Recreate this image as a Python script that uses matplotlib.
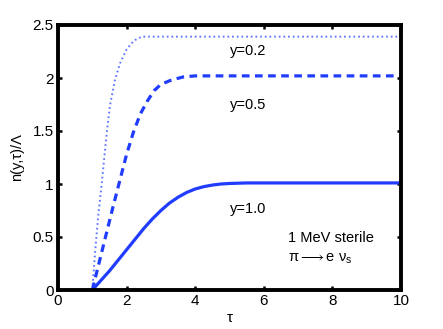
import matplotlib
matplotlib.use("Agg")
import matplotlib.pyplot as plt

plt.rcParams['font.family'] = ['Liberation Sans', 'DejaVu Sans']
plt.rcParams['mathtext.fontset'] = 'custom'
plt.rcParams['mathtext.rm'] = 'Liberation Sans'
plt.rcParams['mathtext.it'] = 'Liberation Sans'

# y = 0.2 (dotted)
tau_02 = [1.0, 1.04, 1.08, 1.17, 1.22, 1.28, 1.34, 1.43, 1.52, 1.66, 1.81, 2.0, 2.15, 2.3, 2.45, 2.7, 10.0]
n_02 = [0.0, 0.18, 0.35, 0.69, 0.84, 1.02, 1.22, 1.51, 1.75, 1.98, 2.14, 2.27, 2.33, 2.37, 2.39, 2.39, 2.39]

# y = 0.5 (dashed)
tau_05 = [1.0, 1.2, 1.4, 1.6, 1.8, 2.0, 2.2, 2.4, 2.6, 2.8, 3.0, 3.3, 3.65, 4.0, 10.0]
n_05 = [0.0, 0.26, 0.52, 0.78, 1.03, 1.28, 1.49, 1.66, 1.78, 1.88, 1.94, 1.98, 2.01, 2.02, 2.02]

# y = 1.0 (solid)
tau_10 = [1.0, 1.25, 1.5, 1.75, 2.0, 2.25, 2.5, 2.75, 3.0, 3.25, 3.5, 3.75, 4.0, 4.25, 4.5, 4.75, 5.0, 5.5, 10.0]
n_10 = [0.0, 0.09, 0.18, 0.28, 0.38, 0.48, 0.58, 0.67, 0.75, 0.82, 0.875, 0.92, 0.953, 0.975, 0.99, 1.0, 1.005, 1.01, 1.01]

xticks = [0, 2, 4, 6, 8, 10]
yticks = [0, 0.5, 1, 1.5, 2, 2.5]
yticklabels = ['0', '0.5', '1', '1.5', '2', '2.5']

fig = plt.figure(figsize=(4.43, 3.29), dpi=100)
ax = fig.add_axes([58/443, 39/329, 343/443, 265/329])

blue = '#1f3cff'
ax.plot(tau_02, n_02, color='#6078ff', lw=1.4, dashes=(0.9, 1.5))
ax.plot(tau_05, n_05, color=blue, lw=2.3, dashes=(2.4, 1.7))
ax.plot(tau_10, n_10, color=blue, lw=2.3, solid_capstyle='butt')

ax.set_xlim(0, 10)
ax.set_ylim(0, 2.5)
ax.set_xticks(xticks)
ax.set_xticklabels([str(v) for v in xticks])
ax.set_yticks(yticks)
ax.set_yticklabels(yticklabels)
ax.tick_params(direction='in', length=3, width=1.8, top=True, right=True,
               labelsize=11, pad=3)
for s in ax.spines.values():
    s.set_linewidth(2.8)

ax.set_xlabel('τ', fontsize=11, labelpad=2)
ax.set_ylabel('n(y,τ)/Λ', fontsize=10.5, labelpad=6)

fs = 10.5
ax.text(5.0, 2.25, 'y=0.2', fontsize=fs, va='center', ha='left')
ax.text(5.0, 1.75, 'y=0.5', fontsize=fs, va='center', ha='left')
ax.text(5.0, 0.76, 'y=1.0', fontsize=fs, va='center', ha='left')
ax.text(6.7, 0.49, '1 MeV sterile', fontsize=fs, va='center', ha='left')
ax.text(6.7, 0.29, r'$\pi \longrightarrow \mathrm{e}\ \nu_\mathrm{s}$', fontsize=fs, va='center', ha='left')

fig.savefig('out.png', dpi=100)
